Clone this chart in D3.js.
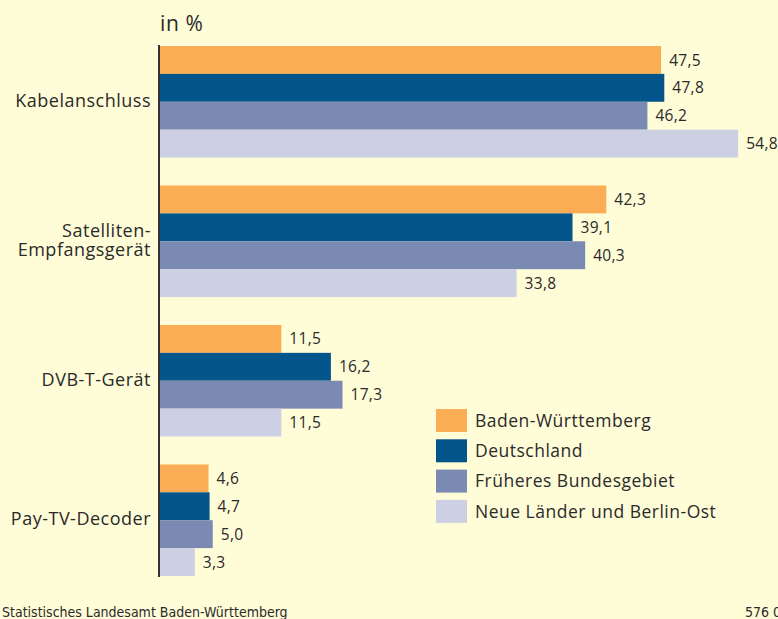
<!DOCTYPE html>
<html>
<head>
<meta charset="utf-8">
<script src="https://cdn.jsdelivr.net/npm/d3@7"></script>
<style>
  html, body { margin: 0; padding: 0; background: #fffcd8; }
  svg { display: block; }
  text { font-family: "Open Sans", "DejaVu Sans", sans-serif; fill: #2a2a2a; }
  .foot { font-family: "Liberation Sans Narrow", "DejaVu Sans Condensed", sans-serif; font-size: 14px; }
</style>
</head>
<body>
<svg id="gfx"></svg>
<script>
const categories = [["Kabelanschluss"], ["Satelliten-", "Empfangsgerät"], ["DVB-T-Gerät"], ["Pay-TV-Decoder"]];
const seriesNames = ["Baden-Württemberg", "Deutschland", "Früheres Bundesgebiet", "Neue Länder und Berlin-Ost"];
const seriesColors = ["#fbad55", "#03558b", "#7b8ab3", "#cdd0e2"];
const badenWuerttemberg = [47.5, 42.3, 11.5, 4.6];
const deutschland = [47.8, 39.1, 16.2, 4.7];
const frueheresBundesgebiet = [46.2, 40.3, 17.3, 5.0];
const neueLaender = [54.8, 33.8, 11.5, 3.3];

const values = [badenWuerttemberg, deutschland, frueheresBundesgebiet, neueLaender];

const width = 778, height = 619;
const svg = d3.select("#gfx").attr("width", width).attr("height", height)
    .attr("viewBox", "0 0 " + width + " " + height);

svg.append("rect").attr("width", width).attr("height", height).attr("fill", "#fffcd8");

const y0 = d3.scaleBand()
    .domain(d3.range(categories.length))
    .range([46, 576])
    .paddingInner(0.2)
    .paddingOuter(0);

const y1 = d3.scaleBand()
    .domain(d3.range(seriesNames.length))
    .range([0, y0.bandwidth()]);

const x = d3.scaleLinear().domain([0, 60]).range([160, 793]);

const fmt = v => d3.format(".1f")(v).replace(".", ",");

// one row per group / series
const rows = [];
categories.forEach((c, i) => {
    values.forEach((s, j) => rows.push({ g: i, s: j, v: s[i] }));
});

const bars = svg.append("g").attr("class", "bars");

bars.selectAll("rect")
    .data(rows)
    .enter()
    .append("rect")
    .attr("x", x(0))
    .attr("y", d => y0(d.g) + y1(d.s))
    .attr("width", d => x(d.v) - x(0))
    .attr("height", y1.bandwidth())
    .attr("fill", d => seriesColors[d.s]);

bars.selectAll("text")
    .data(rows)
    .enter()
    .append("text")
    .attr("x", d => x(d.v) + 8)
    .attr("y", d => y0(d.g) + y1(d.s) + y1.bandwidth() / 2)
    .attr("dy", "0.36em")
    .attr("font-size", 15.5)
    .attr("letter-spacing", 0.3)
    .text(d => fmt(d.v));

// axis line
svg.append("line")
    .attr("x1", 159).attr("x2", 159)
    .attr("y1", 45).attr("y2", 577)
    .attr("stroke", "#333").attr("stroke-width", 2);

// category labels, one text per line
const cats = svg.append("g").attr("class", "cats");
categories.forEach((lines, i) => {
    const cy = y0(i) + y0.bandwidth() / 2;
    lines.forEach((l, k) => {
        cats.append("text")
            .attr("text-anchor", "end")
            .attr("font-size", 18)
            .attr("letter-spacing", 0.5)
            .attr("x", 151)
            .attr("y", cy + 5 + (k - (lines.length - 1) / 2) * 19.5)
            .text(l);
    });
});

svg.append("text")
    .attr("x", 160).attr("y", 31)
    .attr("font-size", 21)
    .attr("letter-spacing", 0.6)
    .text("in %");

// legend
const legend = svg.append("g").attr("transform", "translate(436,409)");
const items = legend.selectAll("g")
    .data(seriesNames)
    .enter()
    .append("g")
    .attr("transform", (d, i) => "translate(0," + (i * 30.3) + ")");
items.append("rect")
    .attr("width", 31).attr("height", 23)
    .attr("fill", (d, i) => seriesColors[i]);
items.append("text")
    .attr("x", 39).attr("y", 11.5).attr("dy", "0.36em")
    .attr("font-size", 17.5)
    .attr("letter-spacing", 0.5)
    .text(d => d);

// footer
svg.append("text").attr("class", "foot")
    .attr("x", 2).attr("y", 617)
    .text("Statistisches Landesamt Baden-Württemberg");
svg.append("text").attr("class", "foot")
    .attr("x", 745).attr("y", 617)
    .text("576 09");
</script>
</body>
</html>
